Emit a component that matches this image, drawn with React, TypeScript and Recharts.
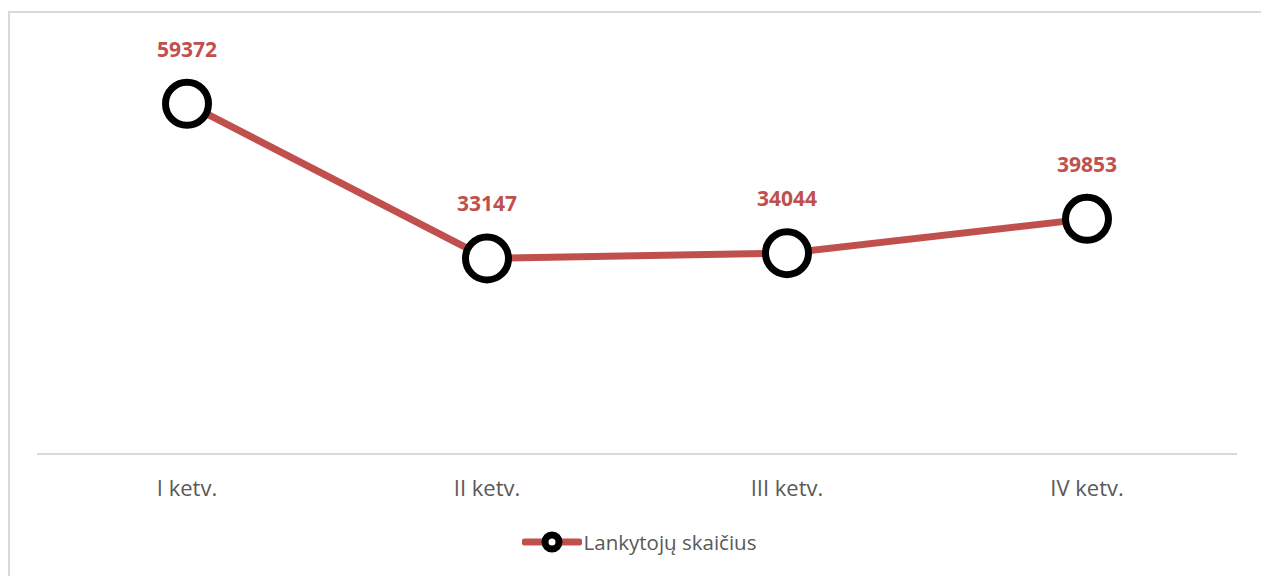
import { LineChart, Line, XAxis, YAxis, Legend } from "recharts";

const quarters = ["I ketv.", "II ketv.", "III ketv.", "IV ketv."];
const visitors = [59372, 33147, 34044, 39853];
const seriesName = "Lankytojų skaičius";

const data = quarters.map((q, i) => ({ quarter: q, value: visitors[i] }));

const RED = "#C0504D";
const FONT = "'Open Sans', 'Liberation Sans', sans-serif";

function PointLabel(props: any) {
  const { x, y, value } = props;
  return (
    <text
      x={x}
      y={y - 47}
      textAnchor="middle"
      fill={RED}
      fontFamily={FONT}
      fontWeight={700}
      fontSize={21}
    >
      {value}
    </text>
  );
}

function LegendContent() {
  return (
    <div style={{ display: "flex", justifyContent: "center", alignItems: "center", height: 24, marginTop: -4 }}>
      <svg width={60} height={24} style={{ marginLeft: 4 }}>
        <line x1={3} y1={12} x2={57} y2={12} stroke={RED} strokeWidth={7} strokeLinecap="round" />
        <circle cx={30} cy={12} r={7} fill="#fff" stroke="#000" strokeWidth={7} />
      </svg>
      <span style={{ fontFamily: FONT, fontSize: 20.5, color: "#595959", marginLeft: 2 }}>{seriesName}</span>
    </div>
  );
}

export default function App() {
  return (
    <div style={{ position: "absolute", left: 0, top: 0, width: 1261, height: 576, overflow: "hidden", background: "#fff" }}>
      <div
        style={{
          position: "absolute",
          left: 8,
          top: 11,
          width: 1300,
          height: 600,
          border: "2px solid #d9d9d9",
        }}
      />
      <div style={{ position: "absolute", left: 0, top: 0 }}>
        <LineChart width={1261} height={576} data={data} margin={{ top: 41, right: 24, bottom: 18, left: 37 }}>
          <YAxis hide domain={[0, 70000]} width={0} />
          <XAxis
            dataKey="quarter"
            height={80}
            padding={{ left: 150, right: 150 }}
            axisLine={{ stroke: "#d9d9d9", strokeWidth: 2 }}
            tickLine={false}
            tick={{ fill: "#595959", fontSize: 22, fontFamily: FONT }}
            tickMargin={20}
          />
          <Legend verticalAlign="bottom" height={24} content={<LegendContent />} />
          <Line
            dataKey="value"
            name={seriesName}
            stroke={RED}
            strokeWidth={7}
            isAnimationActive={false}
            dot={{ r: 21.5, stroke: "#000", strokeWidth: 7, fill: "#fff" }}
            activeDot={false}
            label={<PointLabel />}
          />
        </LineChart>
      </div>
    </div>
  );
}
